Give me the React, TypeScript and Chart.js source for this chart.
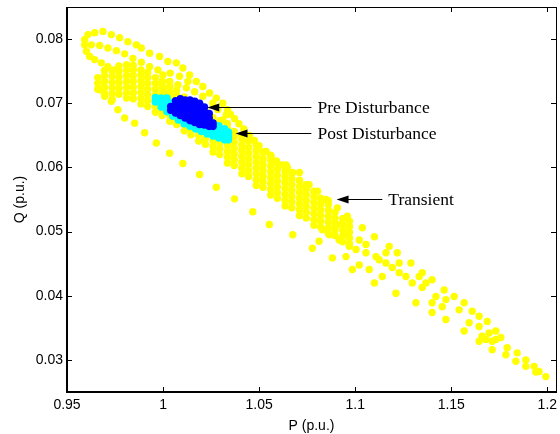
import { useEffect, useRef } from "react";
import { Chart, registerables } from "chart.js";

Chart.register(...registerables);

// ---- axes ----
const xRange = [0.95, 1.2045];
const yRange = [0.025, 0.085];
const xTicks = [0.95, 1, 1.05, 1.1, 1.15, 1.2];
const xTickLabels = ["0.95", "1", "1.05", "1.1", "1.15", "1.2"];
const yTicks = [0.03, 0.04, 0.05, 0.06, 0.07, 0.08];
const yTickLabels = ["0.03", "0.04", "0.05", "0.06", "0.07", "0.08"];
const xTitle = "P (p.u.)";
const yTitle = "Q (p.u.)";

// ---- annotations ----
const annotationLabels = ["Pre Disturbance", "Post Disturbance", "Transient"];
const annotationTipP = [1.023, 1.0377, 1.0903];
const annotationTipQ = [0.06935, 0.0653, 0.0551];
const annotationTailP = [1.0772, 1.0772, 1.1141];

// ---- Transient (yellow) ----
const transientLoops: [number, number][] = [
  [0.9592, 0.0799], [0.9592, 0.0791], [0.9609, 0.0807], [0.9644, 0.081], [0.9687, 0.0812],
  [0.9731, 0.0807], [0.9774, 0.0802], [0.9817, 0.0796], [0.9861, 0.0791], [0.9887, 0.0786],
  [0.993, 0.0778], [0.9982, 0.0773], [1.0025, 0.0765], [1.0069, 0.0763], [1.0103, 0.0755],
  [1.0138, 0.0744], [1.0173, 0.0734], [1.0207, 0.0726], [1.0242, 0.0716], [1.0277, 0.0708],
  [1.0311, 0.07], [1.0335, 0.069], [1.035, 0.0683], [1.0372, 0.0676], [1.0395, 0.0668],
  [1.042, 0.066], [1.0449, 0.065], [1.0475, 0.0642], [1.05, 0.0634], [1.0536, 0.0625],
  [1.0562, 0.0617], [1.059, 0.061], [1.062, 0.0604], [1.0647, 0.06], [1.0674, 0.0592],
  [1.071, 0.058], [1.0744, 0.0571],
  [0.9601, 0.0781], [0.9618, 0.0773], [0.9644, 0.0768], [0.9679, 0.0763], [0.9713, 0.0757],
  [0.9748, 0.0752],
  [0.9627, 0.0791], [0.967, 0.079], [0.9713, 0.0786], [0.9757, 0.0782], [0.98, 0.0777],
  [0.9843, 0.077], [0.9887, 0.0764], [0.993, 0.0757], [0.9973, 0.0752],
  [0.9999, 0.0744], [0.9996, 0.0734], [1.0003, 0.0724], [1.002, 0.0715],
  [1.0034, 0.0734], [1.0077, 0.0729], [1.0121, 0.0724], [1.0164, 0.0718], [1.0207, 0.0711],
  [1.0037, 0.0747], [1.0086, 0.0742], [1.0129, 0.0734],
  [1.0259, 0.07], [1.0285, 0.069], [1.0329, 0.0682], [1.0311, 0.0674],
];

const transientTrail: [number, number][] = [
  [0.967, 0.0721], [0.9696, 0.0711], [0.9731, 0.0703], [0.9765, 0.069], [0.98, 0.0677],
  [0.9852, 0.0669], [0.9904, 0.0654], [0.9965, 0.0638], [1.0034, 0.0622], [1.0103, 0.0606],
  [1.019, 0.0589], [1.0277, 0.0569], [1.0372, 0.0551], [1.0467, 0.0531], [1.0553, 0.0511],
  [1.0675, 0.0495], [1.0777, 0.0474], [1.0881, 0.0459], [1.0985, 0.0441], [1.11, 0.042],
  [1.1212, 0.0404], [1.1316, 0.0389], [1.14, 0.0374], [1.1472, 0.0363], [1.1567, 0.0345],
  [1.1645, 0.0329], [1.1713, 0.0316], [1.1784, 0.0308], [1.1836, 0.0298], [1.1888, 0.029],
  [1.194, 0.0281],
];

const transientUpperEdge: [number, number][] = [
  [1.064, 0.0604], [1.071, 0.0592], [1.076, 0.0573], [1.0804, 0.0563], [1.0848, 0.055],
  [1.0907, 0.0537], [1.0959, 0.0524], [1.1037, 0.0506], [1.11, 0.0492], [1.1177, 0.0477],
  [1.1219, 0.0467], [1.129, 0.0451], [1.1349, 0.0436], [1.14, 0.0425], [1.1463, 0.0409],
  [1.1515, 0.0399], [1.1567, 0.0389], [1.1609, 0.0376], [1.1645, 0.0368], [1.1687, 0.036],
  [1.1732, 0.0345], [1.1758, 0.0335], [1.1791, 0.0319], [1.1843, 0.0311], [1.1888, 0.03],
  [1.1931, 0.029], [1.1957, 0.0282], [1.1992, 0.0274],
];

const transientInterior: [number, number][] = [
  [1.142, 0.0399], [1.1453, 0.0383], [1.14, 0.0389], [1.1349, 0.0413], [1.1297, 0.042],
  [1.1264, 0.043], [1.1229, 0.0436], [1.1193, 0.0444], [1.116, 0.0451], [1.1125, 0.0456],
  [1.1141, 0.043], [1.1073, 0.0441], [1.1021, 0.0448], [1.0952, 0.0461], [1.1004, 0.0472],
  [1.1056, 0.0467], [1.1108, 0.0461], [1.0969, 0.0477], [1.0917, 0.0487], [1.0865, 0.0495],
  [1.0829, 0.0503], [1.0812, 0.0485], [1.0952, 0.0498], [1.0907, 0.0511], [1.1021, 0.0487],
  [1.1056, 0.048], [1.116, 0.0467], [1.1229, 0.0451], [1.1333, 0.043], [1.1368, 0.042],
  [1.1472, 0.0394], [1.1541, 0.0378], [1.1593, 0.0358], [1.1645, 0.0352], [1.1697, 0.0342],
  [1.1732, 0.0332], [1.168, 0.0332], [1.1713, 0.0329], [1.166, 0.0337],
];

const transientBand: [number, number[]][] = [
  [0.966, [0.0722, 0.0731, 0.074]],
  [0.9695, [0.0716, 0.0725, 0.0734, 0.0743, 0.0751]],
  [0.9735, [0.0706, 0.0715, 0.0724, 0.0733, 0.0742, 0.0751]],
  [0.977, [0.0714, 0.0723, 0.0732, 0.0741, 0.075, 0.0758]],
  [0.981, [0.0708, 0.0716, 0.0725, 0.0734, 0.0743, 0.0752, 0.076]],
  [0.9845, [0.0707, 0.0716, 0.0725, 0.0734, 0.0743, 0.0752, 0.0759]],
  [0.9885, [0.0699, 0.0708, 0.0717, 0.0726, 0.0735, 0.0744, 0.0752]],
  [0.992, [0.0695, 0.0704, 0.0713, 0.0722, 0.0731, 0.074, 0.0748]],
  [0.996, [0.0686, 0.0695, 0.0704, 0.0713, 0.0722, 0.0731, 0.074]],
  [0.9995, [0.0681, 0.069, 0.0699, 0.0708, 0.0717, 0.0726, 0.0734]],
  [1.0035, [0.0672, 0.0681, 0.069, 0.0699, 0.0708, 0.0717, 0.0726]],
  [1.007, [0.0667, 0.0676, 0.0685, 0.0694, 0.0703, 0.0712, 0.072]],
  [1.011, [0.0657, 0.0666, 0.0675, 0.0684, 0.0693, 0.0702, 0.071]],
  [1.0145, [0.0651, 0.066, 0.0669, 0.0678, 0.0687, 0.0696, 0.0704]],
  [1.0185, [0.0641, 0.065, 0.0659, 0.0668, 0.0677, 0.0686, 0.0694]],
  [1.022, [0.0636, 0.0645, 0.0654, 0.0663, 0.0672, 0.0681, 0.0689]],
  [1.026, [0.0624, 0.0633, 0.0642, 0.0651, 0.066, 0.0669, 0.0678]],
  [1.0295, [0.062, 0.0629, 0.0638, 0.0647, 0.0656, 0.0665, 0.0673]],
  [1.0335, [0.0607, 0.0616, 0.0625, 0.0634, 0.0643, 0.0652, 0.0661, 0.0668]],
  [1.037, [0.0603, 0.0612, 0.0621, 0.063, 0.0639, 0.0648, 0.0656]],
  [1.041, [0.059, 0.0599, 0.0608, 0.0617, 0.0626, 0.0635, 0.0644, 0.065]],
  [1.0445, [0.0586, 0.0595, 0.0604, 0.0613, 0.0622, 0.0631, 0.0641]],
  [1.0485, [0.0572, 0.0581, 0.059, 0.0599, 0.0608, 0.0617, 0.0626, 0.0635]],
  [1.052, [0.0569, 0.0578, 0.0587, 0.0596, 0.0605, 0.0614, 0.0624]],
  [1.056, [0.0557, 0.0566, 0.0575, 0.0584, 0.0593, 0.0602, 0.0611, 0.0619]],
  [1.0595, [0.0552, 0.0561, 0.057, 0.0579, 0.0588, 0.0597, 0.0606]],
  [1.0635, [0.054, 0.0549, 0.0558, 0.0567, 0.0576, 0.0585, 0.0594, 0.0602]],
  [1.067, [0.0537, 0.0546, 0.0555, 0.0564, 0.0573, 0.0582, 0.059]],
  [1.071, [0.0525, 0.0534, 0.0543, 0.0552, 0.0561, 0.057, 0.0579]],
  [1.0745, [0.0521, 0.053, 0.0539, 0.0548, 0.0557, 0.0566, 0.0573]],
  [1.0785, [0.051, 0.0519, 0.0528, 0.0537, 0.0546, 0.0555, 0.0563]],
  [1.082, [0.0507, 0.0516, 0.0525, 0.0534, 0.0543, 0.0552]],
  [1.086, [0.0497, 0.0506, 0.0515, 0.0524, 0.0533, 0.0542, 0.0548]],
  [1.0895, [0.0494, 0.0503, 0.0512, 0.0521, 0.053]],
  [1.0935, [0.0484, 0.0493, 0.0502, 0.0511, 0.052]],
  [1.097, [0.0481, 0.049, 0.0499, 0.0508, 0.0516]],
];

// ---- Post Disturbance (cyan) ----
const postColumns: [number, number[]][] = [
  [0.996, [0.0702, 0.0709]],
  [0.999, [0.0694, 0.0701, 0.0708]],
  [1.002, [0.0687, 0.0694, 0.0701, 0.0708]],
  [1.005, [0.068, 0.0687, 0.0694, 0.0701]],
  [1.008, [0.0674, 0.0681, 0.0688, 0.0695]],
  [1.011, [0.0668, 0.0675, 0.0682, 0.0689]],
  [1.014, [0.0664, 0.0671, 0.0678, 0.0685]],
  [1.017, [0.066, 0.0667, 0.0674, 0.0681]],
  [1.02, [0.0656, 0.0663, 0.067, 0.0677]],
  [1.023, [0.0652, 0.0659, 0.0666, 0.0673]],
  [1.026, [0.0649, 0.0656, 0.0663, 0.0669]],
  [1.029, [0.0646, 0.0652, 0.0659, 0.0665]],
  [1.032, [0.0643, 0.0649, 0.0655, 0.066]],
  [1.034, [0.0643, 0.0649, 0.0655]],
];

// ---- Pre Disturbance (blue) ----
const preColumns: [number, number[]][] = [
  [1.004, [0.0689, 0.0695]],
  [1.0065, [0.0685, 0.0692, 0.0699, 0.0704]],
  [1.009, [0.0681, 0.0688, 0.0695, 0.0702, 0.0707]],
  [1.0115, [0.0677, 0.0684, 0.0691, 0.0698, 0.0705]],
  [1.014, [0.0673, 0.068, 0.0687, 0.0694, 0.0701, 0.0705]],
  [1.0165, [0.067, 0.0677, 0.0684, 0.0691, 0.0698, 0.0703]],
  [1.019, [0.0667, 0.0674, 0.0681, 0.0688, 0.0695, 0.07]],
  [1.0215, [0.0666, 0.0673, 0.068, 0.0687, 0.0694]],
  [1.024, [0.0664, 0.067, 0.0677, 0.0684]],
  [1.026, [0.0664, 0.0669]],
];

const toPoints = (pairs: [number, number][]) => pairs.map(([x, y]) => ({ x, y }));
const fromColumns = (cols: [number, number[]][]) =>
  cols.flatMap(([x, qs]) => qs.map((y) => ({ x, y })));

const frame = {
  id: "matlabFrame",
  afterDraw(chart: any) {
    const { ctx, chartArea: a, scales } = chart;
    const xs = scales.x;
    const ys = scales.y;
    ctx.save();
    ctx.strokeStyle = "#000";
    ctx.lineWidth = 1;
    ctx.beginPath();
    xTicks.forEach((v) => {
      const px = Math.round(xs.getPixelForValue(v)) + 0.5;
      ctx.moveTo(px, a.bottom);
      ctx.lineTo(px, a.bottom - 5);
      ctx.moveTo(px, a.top);
      ctx.lineTo(px, a.top + 5);
    });
    yTicks.forEach((v) => {
      const py = Math.round(ys.getPixelForValue(v)) + 0.5;
      ctx.moveTo(a.left, py);
      ctx.lineTo(a.left + 5, py);
      ctx.moveTo(a.right, py);
      ctx.lineTo(a.right - 5, py);
    });
    ctx.stroke();
    ctx.lineWidth = 1;
    ctx.strokeRect(a.left + 0.5, a.top + 0.5, a.right - a.left, a.bottom - a.top);
    ctx.lineWidth = 2;
    ctx.beginPath();
    ctx.moveTo(a.left, a.top);
    ctx.lineTo(a.left, a.bottom);
    ctx.lineTo(a.right + 1, a.bottom);
    ctx.stroke();

    ctx.fillStyle = "#000";
    ctx.lineWidth = 1;
    ctx.font = "17.5px 'Liberation Serif'";
    ctx.textBaseline = "middle";
    ctx.textAlign = "left";
    annotationLabels.forEach((label, i) => {
      const tx = xs.getPixelForValue(annotationTipP[i]);
      const ty = Math.round(ys.getPixelForValue(annotationTipQ[i])) + 0.5;
      const tail = xs.getPixelForValue(annotationTailP[i]);
      ctx.beginPath();
      ctx.moveTo(tx + 10, ty);
      ctx.lineTo(tail, ty);
      ctx.stroke();
      ctx.beginPath();
      ctx.moveTo(tx, ty);
      ctx.lineTo(tx + 12, ty - 4);
      ctx.lineTo(tx + 12, ty + 4);
      ctx.closePath();
      ctx.fill();
      ctx.fillText(label, tail + 6, ty + 1);
    });

    ctx.font = "14px 'Liberation Sans'";
    ctx.textAlign = "center";
    ctx.fillText(xTitle, (a.left + a.right) / 2, 426);
    ctx.save();
    ctx.translate(20, (a.top + a.bottom) / 2);
    ctx.rotate(-Math.PI / 2);
    ctx.fillText(yTitle, 0, 0);
    ctx.restore();
    ctx.restore();
  },
};

export default function App() {
  const ref = useRef<HTMLCanvasElement | null>(null);
  useEffect(() => {
    if (!ref.current) return;
    const tickFont = { family: "'Liberation Sans'", size: 14 };
    const chart = new Chart(ref.current, {
      type: "scatter",
      data: {
        datasets: [
          {
            label: "Pre Disturbance",
            data: fromColumns(preColumns),
            backgroundColor: "#0000FF",
            borderWidth: 0,
            pointRadius: 3.8,
            order: 1,
          },
          {
            label: "Post Disturbance",
            data: fromColumns(postColumns),
            backgroundColor: "#00FFFF",
            borderWidth: 0,
            pointRadius: 3.8,
            order: 2,
          },
          {
            label: "Transient",
            data: [
              ...fromColumns(transientBand),
              ...toPoints(transientLoops),
              ...toPoints(transientTrail),
              ...toPoints(transientUpperEdge),
              ...toPoints(transientInterior),
            ],
            backgroundColor: "#FFFF00",
            borderWidth: 0,
            pointRadius: 3.7,
            order: 3,
          },
        ],
      },
      options: {
        animation: false,
        responsive: false,
        maintainAspectRatio: false,
        layout: { padding: { left: 0, right: 3, top: 7, bottom: 0 } },
        plugins: { legend: { display: false }, tooltip: { enabled: false } },
        scales: {
          x: {
            type: "linear",
            min: xRange[0],
            max: xRange[1],
            grid: { display: false, drawTicks: false },
            border: { display: false },
            afterBuildTicks: (s: any) => {
              s.ticks = xTicks.map((v) => ({ value: v }));
            },
            afterFit: (s: any) => {
              s.height = 42;
              s.paddingLeft = 0;
              s.paddingRight = 0;
            },
            ticks: {
              autoSkip: false,
              maxRotation: 0,
              padding: 5,
              color: "#000",
              font: tickFont,
              callback: (_v: any, i: number) => xTickLabels[i],
            },
          },
          y: {
            type: "linear",
            min: yRange[0],
            max: yRange[1],
            grid: { display: false, drawTicks: false },
            border: { display: false },
            afterBuildTicks: (s: any) => {
              s.ticks = yTicks.map((v) => ({ value: v }));
            },
            afterFit: (s: any) => {
              s.width = 67;
              s.paddingTop = 0;
              s.paddingBottom = 0;
            },
            ticks: {
              autoSkip: false,
              padding: 4,
              color: "#000",
              font: tickFont,
              callback: (_v: any, i: number) => yTickLabels[i],
            },
          },
        },
      },
      plugins: [frame],
    });
    return () => chart.destroy();
  }, []);
  return (
    <div style={{ position: "absolute", left: 0, top: 0, width: 560, height: 434, background: "#fff" }}>
      <canvas ref={ref} width={560} height={434} style={{ display: "block" }} />
    </div>
  );
}
